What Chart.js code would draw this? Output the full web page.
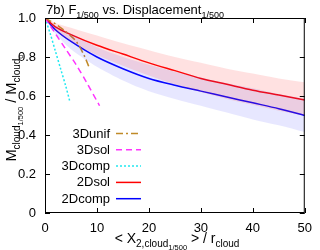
<!DOCTYPE html>
<html>
<head>
<meta charset="utf-8">
<script src="https://cdn.jsdelivr.net/npm/chart.js"></script>
<style>
  html, body { margin: 0; padding: 0; background: #fff; }
  #wrap { width: 320px; height: 250px; }
</style>
</head>
<body>
<div id="wrap"><canvas id="c" width="320" height="250"></canvas></div>
<script>
/* 7b) mass fraction vs displacement */

// 2D runs: sampled x positions, mean curves and spread bands
const xs2D       = [0, 2, 5, 10, 15, 20, 25, 30, 35, 40, 45, 50];
const sol2D      = [1, 0.955, 0.915, 0.86, 0.815, 0.77, 0.73, 0.69, 0.66, 0.63, 0.605, 0.58];
const sol2DHi    = [1, 0.975, 0.95, 0.91, 0.87, 0.835, 0.80, 0.77, 0.74, 0.715, 0.69, 0.67];
const sol2DLo    = [1, 0.935, 0.88, 0.81, 0.755, 0.705, 0.66, 0.62, 0.585, 0.555, 0.525, 0.50];
const comp2D     = [1, 0.94, 0.88, 0.80, 0.74, 0.69, 0.655, 0.625, 0.595, 0.565, 0.535, 0.50];
const comp2DHi   = [1, 0.96, 0.92, 0.85, 0.80, 0.76, 0.725, 0.695, 0.665, 0.64, 0.61, 0.585];
const comp2DLo   = [1, 0.92, 0.84, 0.75, 0.68, 0.625, 0.585, 0.55, 0.515, 0.48, 0.45, 0.415];

// 3D runs (short)
const xsUnif3D   = [0, 2, 4, 6, 7.5, 8.6];
const unif3D     = [1, 0.97, 0.93, 0.88, 0.81, 0.74];
const xsSol3D    = [0, 2, 4, 6, 8, 10.5];
const sol3D      = [1, 0.92, 0.84, 0.76, 0.67, 0.55];
const xsComp3D   = [0, 1, 2, 3, 4, 4.8];
const comp3D     = [1, 0.92, 0.83, 0.74, 0.65, 0.57];

const xTicks = [0, 10, 20, 30, 40, 50];
const yTicks = [0, 0.2, 0.4, 0.6, 0.8, 1];

const FONT = '"Liberation Sans", Arial, sans-serif';

function pts(xs, ys) { return xs.map((x, i) => ({ x: x, y: ys[i] })); }

/* draw text with sub / sub-sub levels: segs = [[text, level], ...] */
const LV = [{ dy: 0 }, { dy: 4 }, { dy: 7 }];
function richWidth(ctx, segs, sizes) {
    let w = 0;
    segs.forEach(([t, l]) => { ctx.font = sizes[l] + 'px ' + FONT; w += ctx.measureText(t).width; });
    return w;
}
function drawRich(ctx, segs, sizes, x, y, align) {
    let cx = x;
    if (align === 'center') cx = x - richWidth(ctx, segs, sizes) / 2;
    ctx.textAlign = 'left';
    ctx.textBaseline = 'alphabetic';
    segs.forEach(([t, l]) => {
        ctx.font = sizes[l] + 'px ' + FONT;
        ctx.fillText(t, cx, y + LV[l].dy);
        cx += ctx.measureText(t).width;
    });
}

const legendItems = [
    { label: '3Dunif',  color: '#c08a28', dash: [7, 3, 2, 3] },
    { label: '3Dsol',   color: '#ff33ff', dash: [6, 4] },
    { label: '3Dcomp',  color: '#22e8f0', dash: [2, 2] },
    { label: '2Dsol',   color: '#ff0000', dash: [] },
    { label: '2Dcomp',  color: '#0000ff', dash: [] }
];

const decorPlugin = {
    id: 'decor',
    afterDraw(ch) {
        const { ctx, chartArea: a, scales: { x, y } } = ch;
        ctx.save();
        ctx.fillStyle = '#000';

        // frame + inward ticks on all sides
        ctx.strokeStyle = '#000';
        ctx.lineWidth = 1;
        ctx.strokeRect(a.left + 0.5, a.top + 0.5, a.right - a.left - 1, a.bottom - a.top - 1);
        ctx.beginPath();
        xTicks.forEach(v => {
            const px = Math.round(x.getPixelForValue(v)) + 0.5;
            ctx.moveTo(px, a.bottom); ctx.lineTo(px, a.bottom - 5);
            ctx.moveTo(px, a.top); ctx.lineTo(px, a.top + 5);
        });
        yTicks.forEach(v => {
            const py = Math.round(y.getPixelForValue(v)) + 0.5;
            ctx.moveTo(a.left, py); ctx.lineTo(a.left + 5, py);
            ctx.moveTo(a.right, py); ctx.lineTo(a.right - 5, py);
        });
        ctx.stroke();

        // title
        drawRich(ctx, [['7b) F', 0], ['1/500', 1], [' vs. Displacement', 0], ['1/500', 1]],
                 [13, 9, 7], 46, 14, 'left');

        // x title
        drawRich(ctx, [['< X', 0], ['2,cloud', 1], ['1/500', 2], [' > / r', 0], ['cloud', 1]],
                 [14, 10, 7.5], 177, 243, 'center');

        // y title (rotated)
        ctx.save();
        ctx.translate(16, 108);
        ctx.rotate(-Math.PI / 2);
        drawRich(ctx, [['M', 0], ['cloud', 1], ['1/500', 2], [' / M', 0], ['cloud', 1], ['o', 2]],
                 [14.5, 10, 7.5], 0, 0, 'center');
        ctx.restore();

        // legend
        ctx.font = '13px ' + FONT;
        ctx.textAlign = 'right';
        ctx.textBaseline = 'middle';
        legendItems.forEach((it, i) => {
            const ly = 133 + i * 16.3;
            ctx.fillStyle = '#000';
            ctx.fillText(it.label, 110, ly + 1);
            ctx.strokeStyle = it.color;
            ctx.lineWidth = 1.5;
            ctx.setLineDash(it.dash);
            ctx.beginPath();
            ctx.moveTo(116, ly + 0.5); ctx.lineTo(141, ly + 0.5);
            ctx.stroke();
        });
        ctx.restore();
    }
};

const line = (data, color, dash, w) => ({
    data, borderColor: color, borderDash: dash, borderWidth: w,
    pointRadius: 0, fill: false, tension: 0.3
});
const band = (data, color, fill) => ({
    data, borderWidth: 0, borderColor: 'rgba(0,0,0,0)', backgroundColor: color,
    pointRadius: 0, fill: fill, tension: 0.3
});

new Chart(document.getElementById('c'), {
    type: 'line',
    data: {
        datasets: [
            band(pts(xs2D, sol2DHi), 'rgba(255,40,40,0.14)', '+1'),
            band(pts(xs2D, sol2DLo), 'rgba(0,0,0,0)', false),
            band(pts(xs2D, comp2DHi), 'rgba(60,60,255,0.12)', '+1'),
            band(pts(xs2D, comp2DLo), 'rgba(0,0,0,0)', false),
            line(pts(xsUnif3D, unif3D), legendItems[0].color, legendItems[0].dash, 1.5),
            line(pts(xsSol3D, sol3D), legendItems[1].color, legendItems[1].dash, 1.5),
            line(pts(xsComp3D, comp3D), legendItems[2].color, legendItems[2].dash, 1.5),
            line(pts(xs2D, sol2D), legendItems[3].color, [], 1.5),
            line(pts(xs2D, comp2D), legendItems[4].color, [], 1.5)
        ]
    },
    options: {
        responsive: false,
        animation: false,
        layout: { padding: { top: 18, right: 13, left: 0, bottom: 0 } },
        plugins: { legend: { display: false }, tooltip: { enabled: false } },
        scales: {
            x: {
                type: 'linear', min: 0, max: 50,
                afterBuildTicks: s => { s.ticks = xTicks.map(v => ({ value: v })); },
                afterFit: s => { s.height = 37; },
                grid: { display: false, drawTicks: false },
                border: { display: false },
                ticks: { color: '#000', padding: 8, font: { family: FONT, size: 13 }, maxRotation: 0 }
            },
            y: {
                type: 'linear', min: 0, max: 1,
                afterBuildTicks: s => { s.ticks = yTicks.map(v => ({ value: v })); },
                afterFit: s => { s.width = 45; },
                grid: { display: false, drawTicks: false },
                border: { display: false },
                ticks: { color: '#000', padding: 9, font: { family: FONT, size: 13 } }
            }
        }
    },
    plugins: [decorPlugin]
});
</script>
</body>
</html>
